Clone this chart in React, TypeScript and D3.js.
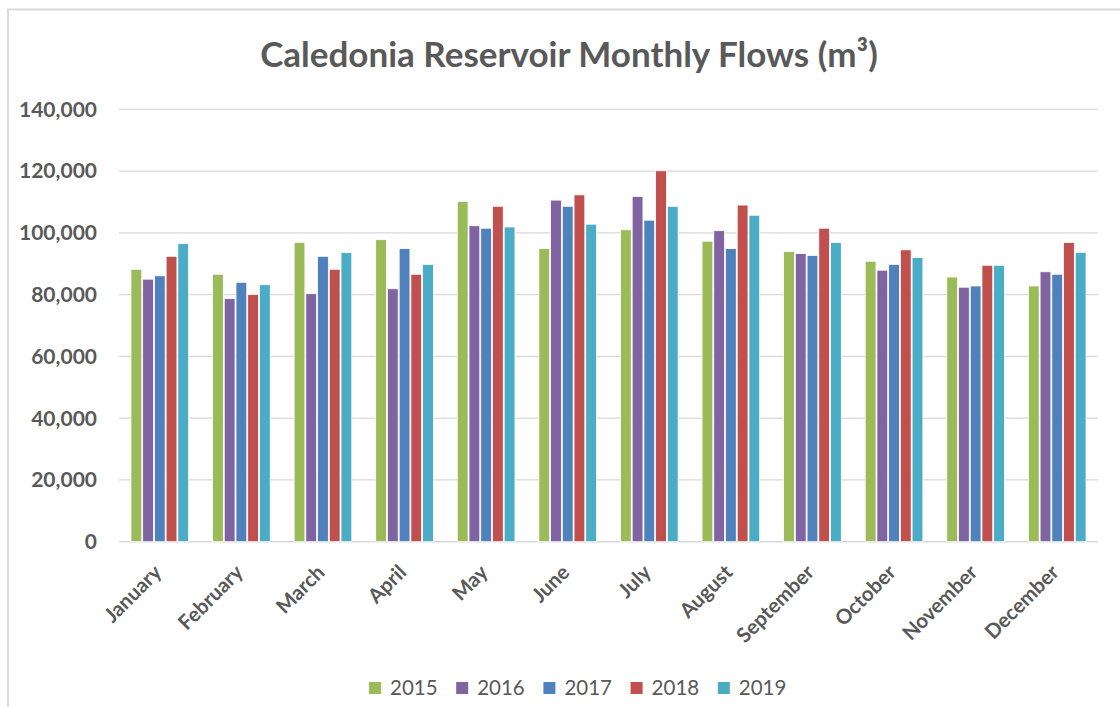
import React from "react";
import * as d3 from "d3";

const months = ["January","February","March","April","May","June","July","August","September","October","November","December"];
const years = ["2015","2016","2017","2018","2019"];
const colors = ["#9BBB59","#8064A2","#4F81BD","#C0504D","#4BACC6"];
const v2015 = [88200,86600,96900,97800,110200,94900,101000,97300,94000,90800,85700,82800];
const v2016 = [85000,78700,80300,81900,102300,110600,111800,100700,93300,87900,82400,87400];
const v2017 = [86100,84000,92400,94900,101500,108600,104100,94900,92700,89800,82800,86600];
const v2018 = [92400,80000,88200,86600,108600,112300,120100,109000,101500,94500,89500,96900];
const v2019 = [96500,83200,93600,89800,101900,102800,108600,105700,96900,92000,89500,93700];
const series = [v2015, v2016, v2017, v2018, v2019];
const yTicks = [0,20000,40000,60000,80000,100000,120000,140000];

export default function App() {
  const W = 1120, H = 707;
  const left = 119, right = 1098, top = 109.3, bottom = 541.7;
  const x0 = d3.scaleBand().domain(months).range([left, right]).paddingInner(0.27).paddingOuter(0.135);
  const x1 = d3.scaleBand().domain(years).range([0, x0.bandwidth()]).padding(0.08);
  const y = d3.scaleLinear().domain([0, 140000]).range([bottom, top]);
  const fmt = d3.format(",");
  const font = "Lato, 'Open Sans', sans-serif";
  const gray = "#595959";
  return (
    <svg width={W} height={H} style={{ position: "absolute", left: 0, top: 0, background: "#fff" }} fontFamily={font}>
      <rect x={8} y={9.5} width={W + 10} height={H + 10} fill="#fff" stroke="#d9d9d9" strokeWidth={2} />
      <text x={569} y={67} textAnchor="middle" fontSize={35} fontWeight={700} fill={gray}>
        Caledonia Reservoir Monthly Flows (m³)
      </text>
      {yTicks.map((t) => (
        <g key={t}>
          <line x1={left} x2={right} y1={y(t)} y2={y(t)} stroke="#d9d9d9" strokeWidth={t === 0 ? 1.5 : 1.2} />
          <text x={97} y={y(t)} dy="0.35em" textAnchor="end" fontSize={21} fontWeight={700} fill={gray}>{fmt(t)}</text>
        </g>
      ))}
      {months.map((m, i) => (
        <g key={m} transform={`translate(${x0(m)},0)`}>
          {years.map((yr, j) => (
            <rect key={yr} x={x1(yr)} y={y(series[j][i])} width={x1.bandwidth()} height={bottom - y(series[j][i])}
              fill={colors[j]} stroke="#fff" strokeWidth={0.8} />
          ))}
          <text transform={`translate(${x0.bandwidth() / 2 + 3},${bottom + 32}) rotate(-45)`} textAnchor="end"
            fontSize={20.5} fontWeight={700} fill={gray}>{m}</text>
        </g>
      ))}
      {years.map((yr, j) => (
        <g key={yr} transform={`translate(${369 + j * 87.2},682)`}>
          <rect x={0} y={0} width={12} height={12} fill={colors[j]} />
          <text x={21} y={6} dy="0.35em" fontSize={20.5} fill={gray}>{yr}</text>
        </g>
      ))}
    </svg>
  );
}
